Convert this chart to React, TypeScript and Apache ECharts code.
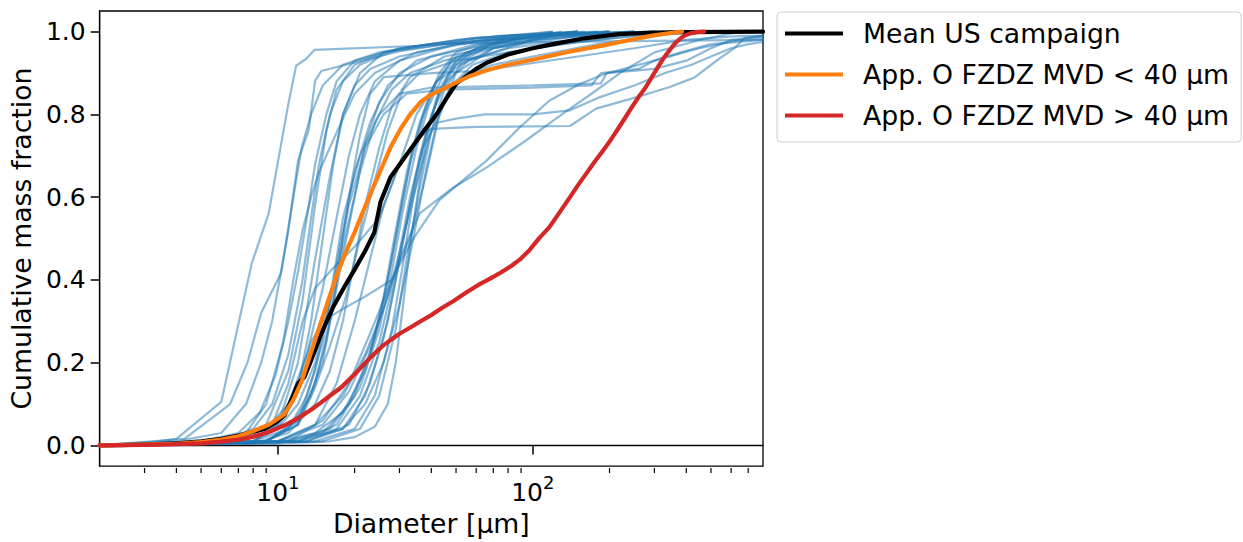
import React, { useEffect, useRef } from "react";
import * as echarts from "echarts";

const FONT = "DejaVu Sans";

// [diameter µm, cumulative mass fraction]
const meanUS: [number, number][] = [
  [2, 0], [3, 0.002], [4, 0.005], [5, 0.01], [6, 0.016], [7, 0.024], [8, 0.033], [8.9, 0.04],
  [9.8, 0.055], [10.6, 0.072], [11.3, 0.11], [12.0, 0.15], [12.7, 0.165], [13.5, 0.205],
  [14.8, 0.27], [16.5, 0.335], [18.5, 0.39], [20, 0.425], [22, 0.47], [23.9, 0.515],
  [25.3, 0.589], [27.7, 0.649], [32.2, 0.705], [37.5, 0.761], [42, 0.801], [46, 0.84],
  [50, 0.874], [60, 0.91], [66, 0.925], [80, 0.945], [100, 0.96], [120, 0.97], [160, 0.984],
  [218, 0.994], [300, 0.998], [400, 0.999], [800, 1.0],
];

const fzdzSmall: [number, number][] = [
  [2, 0], [3, 0.002], [4, 0.004], [5, 0.008], [6, 0.014], [7, 0.022], [7.9, 0.033], [9.2, 0.05],
  [10.6, 0.075], [11.5, 0.11], [12.4, 0.155], [13.5, 0.225], [14.8, 0.3], [16, 0.362], [17, 0.41],
  [18.5, 0.468], [20, 0.515], [21.5, 0.563], [23.2, 0.611], [25.3, 0.665], [27.7, 0.721],
  [30.3, 0.765], [33.1, 0.801], [36.3, 0.83], [39.7, 0.847], [44, 0.86], [50, 0.877],
  [56.8, 0.893], [67, 0.908], [80, 0.92], [92, 0.928], [103, 0.934], [120, 0.943], [140, 0.952],
  [165, 0.96], [190, 0.967], [215, 0.974], [240, 0.98], [265, 0.985], [290, 0.99], [330, 0.995],
  [385, 1.0],
];

const fzdzLarge: [number, number][] = [
  [2, 0], [3, 0.001], [4, 0.003], [5, 0.005], [6, 0.009], [7, 0.014], [7.9, 0.02], [9, 0.03],
  [10.6, 0.048], [12, 0.066], [13.5, 0.086], [14.8, 0.104], [16, 0.12], [17.7, 0.14],
  [20, 0.172], [23.2, 0.214], [25.5, 0.238], [27.7, 0.255], [30, 0.27], [33.1, 0.285],
  [36.3, 0.3], [40, 0.315], [44, 0.332], [48.9, 0.349], [55, 0.37], [62, 0.39], [68, 0.403],
  [75, 0.418], [82, 0.433], [88.9, 0.449], [97, 0.472], [106, 0.501], [116, 0.527],
  [128, 0.565], [140, 0.6], [150, 0.628], [162, 0.657], [176, 0.688], [190, 0.715],
  [204, 0.742], [218, 0.769], [232, 0.795], [245, 0.818], [260, 0.842], [277, 0.865],
  [293, 0.89], [310, 0.915], [325, 0.935], [341, 0.952], [355, 0.966], [370, 0.978],
  [384, 0.986], [396, 0.991], [415, 0.996], [440, 0.999], [470, 1.0],
];

// individual campaign distributions
const runL1: [number, number][] = [[2, 0], [3.2, 0.008], [4, 0.016], [6, 0.105], [7.9, 0.44], [9.2, 0.56], [11, 0.826], [11.8, 0.918], [12.9, 0.934], [13.9, 0.956], [36, 0.966], [74, 0.982], [180, 0.997], [450, 1]];
const runL2: [number, number][] = [[2, 0], [4.3, 0.016], [6.5, 0.1], [7.6, 0.2], [8.6, 0.32], [10.3, 0.417], [11, 0.52], [12, 0.689], [13.2, 0.761], [14, 0.881], [14.8, 0.905], [30, 0.953], [74, 0.99], [180, 1]];
const runL3: [number, number][] = [[2, 0], [4, 0.01], [6, 0.03], [7.5, 0.1], [8.6, 0.2], [9.5, 0.3], [10.5, 0.45], [11.5, 0.6], [12.4, 0.72], [13.5, 0.8], [15, 0.87], [18, 0.92], [25, 0.95], [50, 0.98], [120, 1]];
const runL4: [number, number][] = [[2, 0], [5, 0.01], [7, 0.03], [8.5, 0.08], [9.8, 0.17], [11, 0.3], [12, 0.42], [13, 0.55], [14, 0.68], [15.5, 0.8], [17, 0.88], [20, 0.93], [30, 0.96], [60, 0.985], [150, 1]];
const runL5: [number, number][] = [[2, 0], [5, 0.005], [7.5, 0.03], [9, 0.1], [10.5, 0.25], [11.5, 0.4], [12.5, 0.52], [13.5, 0.6], [14.5, 0.66], [16, 0.72], [18, 0.79], [20, 0.85], [24, 0.9], [35, 0.95], [80, 0.99], [200, 1]];
const runM1: [number, number][] = [[2, 0], [6, 0.01], [9, 0.04], [11, 0.1], [13, 0.22], [15, 0.38], [17, 0.55], [19, 0.7], [21, 0.8], [24, 0.88], [30, 0.93], [50, 0.97], [120, 0.995], [300, 1]];
const runM2: [number, number][] = [[2, 0], [7, 0.01], [10, 0.04], [12, 0.1], [14, 0.2], [16, 0.35], [18, 0.52], [20, 0.66], [23, 0.78], [27, 0.87], [35, 0.93], [60, 0.97], [150, 1]];
const runM3: [number, number][] = [[2, 0], [8, 0.01], [11, 0.04], [13.5, 0.12], [15.5, 0.25], [17.5, 0.42], [20, 0.6], [22, 0.73], [25, 0.83], [30, 0.9], [40, 0.94], [80, 0.98], [200, 1]];
const runM4: [number, number][] = [[2, 0], [8, 0.005], [11, 0.03], [14, 0.1], [16, 0.18], [18, 0.3], [20, 0.45], [22, 0.58], [25, 0.72], [28, 0.82], [33, 0.89], [45, 0.94], [100, 0.98], [250, 1]];
const runM5: [number, number][] = [[2, 0], [9, 0.01], [12, 0.05], [15, 0.2], [17, 0.4], [19, 0.6], [21, 0.75], [23, 0.85], [26, 0.89], [40, 0.9], [60, 0.905], [90, 0.92], [150, 0.94], [250, 0.96], [400, 0.98], [650, 0.99], [800, 0.99]];
const runM6: [number, number][] = [[2, 0], [9, 0.01], [12, 0.06], [14, 0.15], [16, 0.3], [18, 0.48], [21, 0.66], [24, 0.78], [28, 0.86], [33, 0.9], [45, 0.93], [70, 0.96], [150, 0.99], [300, 1]];
const runM7: [number, number][] = [[2, 0], [8, 0.01], [10, 0.05], [12, 0.15], [13.5, 0.25], [15, 0.3], [18, 0.33], [22, 0.36], [28, 0.4], [33, 0.5], [38, 0.65], [43, 0.8], [50, 0.9], [70, 0.96], [150, 1]];
const runM8: [number, number][] = [[2, 0], [7, 0.01], [9.5, 0.05], [11, 0.15], [12.5, 0.3], [14, 0.38], [16, 0.42], [20, 0.48], [25, 0.55], [30, 0.68], [35, 0.8], [42, 0.88], [55, 0.93], [100, 0.98], [250, 1]];
const runM9: [number, number][] = [[2, 0], [9, 0.01], [12, 0.05], [14, 0.14], [16, 0.24], [18.5, 0.36], [21, 0.5], [24, 0.64], [27, 0.76], [31, 0.86], [36, 0.9], [50, 0.93], [80, 0.95], [130, 0.97], [250, 0.99], [500, 1]];
const runR1: [number, number][] = [[2, 0], [10, 0.01], [14, 0.03], [18, 0.08], [22, 0.18], [25, 0.3], [28, 0.45], [31, 0.6], [34, 0.72], [38, 0.82], [43, 0.9], [50, 0.95], [70, 0.98], [150, 1]];
const runR2: [number, number][] = [[2, 0], [10, 0.005], [15, 0.03], [19, 0.1], [23, 0.22], [26, 0.36], [29, 0.52], [32, 0.66], [36, 0.78], [41, 0.87], [48, 0.93], [65, 0.97], [130, 1]];
const runR3: [number, number][] = [[2, 0], [11, 0.01], [16, 0.04], [20, 0.12], [24, 0.26], [27, 0.4], [30, 0.55], [33, 0.68], [37, 0.79], [42, 0.88], [50, 0.94], [75, 0.98], [160, 1]];
const runR4: [number, number][] = [[2, 0], [12, 0.01], [17, 0.05], [21, 0.14], [25, 0.28], [28, 0.42], [31, 0.57], [35, 0.72], [39, 0.82], [45, 0.9], [55, 0.95], [90, 0.985], [200, 1]];
const runR5: [number, number][] = [[2, 0], [12, 0.01], [18, 0.04], [22, 0.12], [26, 0.26], [29, 0.4], [32, 0.54], [36, 0.7], [40, 0.8], [46, 0.88], [56, 0.93], [80, 0.96], [140, 0.98], [300, 1]];
const runR6: [number, number][] = [[2, 0], [13, 0.01], [19, 0.05], [23, 0.15], [27, 0.3], [30, 0.45], [34, 0.62], [38, 0.75], [43, 0.85], [50, 0.92], [65, 0.96], [110, 0.99], [250, 1]];
const runR7: [number, number][] = [[2, 0], [10, 0.01], [15, 0.05], [19, 0.13], [23, 0.24], [27, 0.36], [31, 0.5], [35, 0.63], [40, 0.76], [46, 0.85], [55, 0.9], [70, 0.92], [100, 0.94], [180, 0.97], [400, 1]];
const runR8: [number, number][] = [[2, 0], [14, 0.01], [20, 0.04], [24, 0.12], [28, 0.28], [31, 0.44], [34, 0.6], [38, 0.74], [42, 0.84], [48, 0.91], [60, 0.96], [100, 0.99], [200, 1]];
const runR9: [number, number][] = [[2, 0], [15, 0.01], [21, 0.04], [25, 0.12], [29, 0.28], [32, 0.45], [36, 0.62], [40, 0.76], [45, 0.86], [52, 0.92], [70, 0.96], [120, 0.99], [300, 1]];
const runR10: [number, number][] = [[2, 0], [10, 0.005], [16, 0.01], [20, 0.02], [24, 0.045], [27, 0.1], [29, 0.2], [31, 0.34], [33, 0.48], [36, 0.64], [39, 0.76], [43, 0.86], [50, 0.93], [70, 0.97], [150, 1]];
const runR11: [number, number][] = [[2, 0], [13, 0.01], [18, 0.04], [22, 0.1], [26, 0.2], [30, 0.34], [34, 0.5], [38, 0.66], [42, 0.78], [48, 0.87], [58, 0.92], [80, 0.95], [150, 0.975], [350, 1]];
const runR12: [number, number][] = [[2, 0], [12, 0.01], [17, 0.04], [21, 0.12], [25, 0.25], [29, 0.42], [33, 0.6], [37, 0.72], [42, 0.78], [50, 0.79], [65, 0.8], [100, 0.8], [140, 0.81], [180, 0.84], [250, 0.87], [330, 0.9], [420, 0.92], [500, 0.94], [600, 0.96], [700, 0.97], [800, 0.975]];
const runP1: [number, number][] = [[2, 0], [10, 0.01], [14, 0.05], [17, 0.15], [20, 0.3], [23, 0.45], [26, 0.58], [30, 0.68], [35, 0.74], [40, 0.765], [60, 0.77], [140, 0.772], [177, 0.814], [250, 0.84], [340, 0.865], [430, 0.889], [545, 0.937], [620, 0.961], [680, 0.985], [800, 0.99]];
const runP2: [number, number][] = [[2, 0], [9, 0.01], [12, 0.06], [14, 0.18], [16, 0.35], [18, 0.55], [21, 0.7], [25, 0.8], [30, 0.85], [40, 0.865], [100, 0.87], [185, 0.875], [195, 0.9], [300, 0.91], [400, 0.93], [500, 0.96], [600, 0.98], [800, 0.99]];
const runP3: [number, number][] = [[2, 0], [11, 0.01], [15, 0.06], [19, 0.15], [23, 0.27], [28, 0.4], [34, 0.5], [43, 0.593], [66, 0.689], [89, 0.769], [116, 0.833], [152, 0.873], [190, 0.897], [300, 0.93], [450, 0.96], [650, 0.98], [800, 0.985]];
const runP4: [number, number][] = [[2, 0], [10, 0.01], [14, 0.05], [18, 0.12], [22, 0.22], [26, 0.33], [30, 0.45], [36, 0.561], [49, 0.624], [66, 0.672], [94, 0.737], [130, 0.8], [170, 0.85], [220, 0.9], [300, 0.95], [450, 0.98], [650, 1]];
const runP5: [number, number][] = [[2, 0], [9, 0.01], [11, 0.04], [13, 0.12], [15, 0.25], [17, 0.42], [19, 0.58], [22, 0.72], [26, 0.8], [32, 0.85], [45, 0.86], [100, 0.865], [170, 0.87], [185, 0.9], [260, 0.91], [300, 0.93], [380, 0.95], [500, 0.97], [800, 0.98]];
const runP6: [number, number][] = [[2, 0], [8, 0.01], [10, 0.05], [12, 0.2], [14, 0.45], [16, 0.65], [18, 0.8], [21, 0.9], [26, 0.95], [40, 0.97], [100, 0.975], [300, 0.978], [800, 0.98]];
const runT1: [number, number][] = [[2, 0], [6, 0.01], [8, 0.04], [9.5, 0.1], [11, 0.22], [12.5, 0.4], [13.5, 0.55], [14.5, 0.68], [16, 0.8], [18, 0.88], [21, 0.92], [30, 0.96], [60, 0.985], [150, 1]];
const runT2: [number, number][] = [[2, 0], [7, 0.01], [9, 0.05], [11, 0.18], [12.5, 0.35], [14, 0.58], [15.5, 0.76], [17, 0.86], [20, 0.92], [26, 0.95], [45, 0.97], [100, 0.99], [250, 1]];
const runT3: [number, number][] = [[2, 0], [8, 0.01], [10, 0.04], [12, 0.14], [13.5, 0.3], [15, 0.5], [16.5, 0.68], [18, 0.8], [20, 0.87], [23, 0.91], [30, 0.94], [50, 0.97], [120, 1]];

const campaignRuns = [
  runL1, runL2, runL3, runL4, runL5,
  runM1, runM2, runM3, runM4, runM5, runM6, runM7, runM8, runM9,
  runR1, runR2, runR3, runR4, runR5, runR6, runR7, runR8, runR9, runR10, runR11, runR12,
  runP1, runP2, runP3, runP4, runP5, runP6,
  runT1, runT2, runT3,
];

const yTicks = [0, 0.2, 0.4, 0.6, 0.8, 1.0];
const xMinorTicks = [3, 4, 5, 6, 7, 8, 9, 20, 30, 40, 50, 60, 70, 80, 90, 200, 300, 400, 500, 600, 700];

const GRID = { left: 97, top: 11, width: 666, height: 457 };

export default function App() {
  const ref = useRef<HTMLDivElement>(null);

  useEffect(() => {
    if (!ref.current) return;
    const chart = echarts.init(ref.current, null, { renderer: "svg" });

    const blueSeries = campaignRuns.map((run, i) => ({
      name: "run" + i,
      type: "line",
      data: run,
      symbol: "none",
      silent: true,
      z: 2,
      lineStyle: { color: "#1f77b4", width: 2.2, opacity: 0.5 },
    }));

    const mainSeries = [
      { name: "Mean US campaign", data: meanUS, color: "#000000" },
      { name: "App. O FZDZ MVD < 40 µm", data: fzdzSmall, color: "#ff7f0e" },
      { name: "App. O FZDZ MVD > 40 µm", data: fzdzLarge, color: "#d62728" },
    ].map((s, i) => ({
      name: s.name,
      type: "line",
      data: s.data,
      symbol: "none",
      smooth: false,
      silent: true,
      z: 3 + i,
      color: s.color,
      lineStyle: { color: s.color, width: 4.2, join: "round", cap: "round" },
    }));

    chart.setOption({
      animation: false,
      textStyle: { fontFamily: FONT },
      grid: {
        ...GRID,
        show: true,
        borderColor: "#000",
        borderWidth: 1.3,
        backgroundColor: "transparent",
        containLabel: false,
      },
      legend: {
        data: mainSeries.map((s) => s.name),
        orient: "vertical",
        left: 777,
        top: 12,
        icon: "rect",
        itemWidth: 58,
        itemHeight: 4,
        itemGap: 10,
        padding: [6, 12, 11, 8],
        backgroundColor: "#fff",
        borderColor: "#d0d0d0",
        borderWidth: 1,
        borderRadius: 4,
        textStyle: {
          fontSize: 26.7,
          color: "#000",
          fontFamily: FONT,
          lineHeight: 31,
          padding: [0, 0, 0, 15],
        },
      },
      xAxis: {
        type: "log",
        logBase: 10,
        min: 2,
        max: 800,
        name: "Diameter [µm]",
        nameLocation: "middle",
        nameGap: 39,
        nameTextStyle: { fontSize: 26.7, color: "#000", fontFamily: FONT },
        axisLine: { show: true, lineStyle: { color: "#000", width: 1.3 } },
        axisTick: { show: true, length: 9, lineStyle: { color: "#000", width: 1.5 } },
        splitLine: { show: false },
        minorTick: { show: false },
        axisLabel: {
          showMinLabel: false,
          showMaxLabel: false,
          margin: 7,
          formatter: (v: number) => "{b|10}{s|" + Math.round(Math.log10(v)) + "}",
          rich: {
            b: { fontSize: 25, fontFamily: FONT, color: "#000", lineHeight: 32, verticalAlign: "bottom" },
            s: { fontSize: 18, fontFamily: FONT, color: "#000", lineHeight: 32, verticalAlign: "top" },
          },
        },
      },
      yAxis: {
        type: "value",
        min: -0.05,
        max: 1.05,
        name: "Cumulative mass fraction",
        nameLocation: "middle",
        nameGap: 56,
        nameTextStyle: { fontSize: 26.7, color: "#000", fontFamily: FONT },
        axisLine: { show: true, lineStyle: { color: "#000", width: 1.3 } },
        axisTick: { show: true, length: 9, lineStyle: { color: "#000", width: 1.5 }, customValues: yTicks },
        splitLine: { show: false },
        axisLabel: {
          customValues: yTicks,
          fontSize: 25,
          color: "#000",
          fontFamily: FONT,
          margin: 14,
          formatter: (v: number) => v.toFixed(1),
        },
      },
      series: [...blueSeries, ...mainSeries],
    });

    const bottom = GRID.top + GRID.height;
    const minor = xMinorTicks.map((v) => {
      const px = chart.convertToPixel({ xAxisIndex: 0 }, v) as number;
      return {
        type: "line",
        silent: true,
        shape: { x1: px, y1: bottom, x2: px, y2: bottom + 5 },
        style: { stroke: "#000", lineWidth: 1.2 },
      };
    });
    chart.setOption({ graphic: minor });

    return () => chart.dispose();
  }, []);

  return (
    <div
      ref={ref}
      style={{ position: "absolute", left: 0, top: 0, width: 1243, height: 542, background: "#fff" }}
    />
  );
}
